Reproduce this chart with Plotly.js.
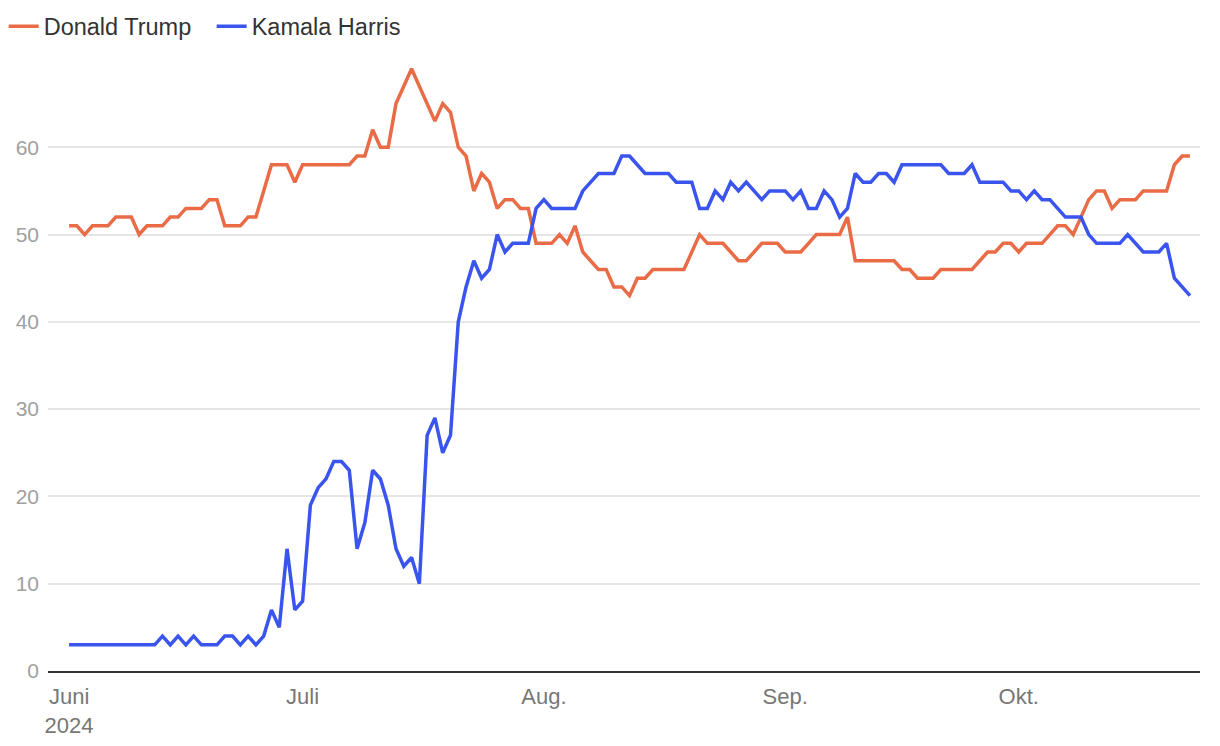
<!DOCTYPE html>
<html>
<head>
<meta charset="utf-8">
<script src="https://cdn.plot.ly/plotly-3.0.1.min.js"></script>
<style>
html,body{margin:0;padding:0;background:#fff;}
#chart{width:1220px;height:746px;}
</style>
</head>
<body>
<div id="chart"></div>
<script>
// Daily series starting 2024-06-01 (one value per day)
const seriesStart = '2024-06-01';

const trump = [
  51,51,50,51,51,51,52,52,52,50,
  51,51,51,52,52,53,53,53,54,54,
  51,51,51,52,52,55,58,58,58,56,
  58,58,58,58,58,58,58,59,59,62,
  60,60,65,67,69,67,65,63,65,64,
  60,59,55,57,56,53,54,54,53,53,
  49,49,49,50,49,51,48,47,46,46,
  44,44,43,45,45,46,46,46,46,46,
  48,50,49,49,49,48,47,47,48,49,
  49,49,48,48,48,49,50,50,50,50,
  52,47,47,47,47,47,47,46,46,45,
  45,45,46,46,46,46,46,47,48,48,
  49,49,48,49,49,49,50,51,51,50,
  52,54,55,55,53,54,54,54,55,55,
  55,55,58,59,59
];

const harris = [
  3,3,3,3,3,3,3,3,3,3,
  3,3,4,3,4,3,4,3,3,3,
  4,4,3,4,3,4,7,5,14,7,
  8,19,21,22,24,24,23,14,17,23,
  22,19,14,12,13,10,27,29,25,27,
  40,44,47,45,46,50,48,49,49,49,
  53,54,53,53,53,53,55,56,57,57,
  57,59,59,58,57,57,57,57,56,56,
  56,53,53,55,54,56,55,56,55,54,
  55,55,55,54,55,53,53,55,54,52,
  53,57,56,56,57,57,56,58,58,58,
  58,58,58,57,57,57,58,56,56,56,
  56,55,55,54,55,54,54,53,52,52,
  52,50,49,49,49,49,50,49,48,48,
  48,49,45,44,43
];

const seriesNames = ['Donald Trump', 'Kamala Harris'];
const seriesColors = ['#E96C47', '#3A54EE'];

const tickDates = ['2024-06-01','2024-07-01','2024-08-01','2024-09-01','2024-10-01'];
const tickLabels = ['Juni<br>2024','Juli','Aug.','Sep.','Okt.'];
const yTicks = [0,10,20,30,40,50,60];

function dailyDates(start, n) {
  const parts = start.split('-').map(Number);
  const base = Date.UTC(parts[0], parts[1]-1, parts[2]);
  const out = [];
  for (let i = 0; i < n; i++) {
    out.push(new Date(base + i*86400000).toISOString().slice(0,10));
  }
  return out;
}

const dates = dailyDates(seriesStart, trump.length);

const traces = [trump, harris].map((vals, i) => ({
  type: 'scatter',
  mode: 'lines',
  x: dates,
  y: vals,
  name: seriesNames[i],
  line: {color: seriesColors[i], width: 3.5, shape: 'linear'},
  hoverinfo: 'skip'
}));

const layout = {
  width: 1220,
  height: 746,
  margin: {l: 48, r: 20, t: 60, b: 75, pad: 0},
  paper_bgcolor: '#ffffff',
  plot_bgcolor: '#ffffff',
  font: {family: 'Liberation Sans, Arial, Helvetica, sans-serif', color: '#333'},
  showlegend: true,
  legend: {
    orientation: 'h',
    x: 0.003, y: 0.994,
    xref: 'container', yref: 'container',
    xanchor: 'left', yanchor: 'top',
    font: {size: 23.5, color: '#333'},
    itemwidth: 30,
    entrywidth: 163,
    entrywidthmode: 'pixels',
    bgcolor: 'rgba(0,0,0,0)'
  },
  xaxis: {
    type: 'date',
    range: ['2024-05-29 07:00', '2024-10-24 07:00'],
    tickvals: tickDates,
    ticktext: tickLabels,
    ticks: '',
    showgrid: false,
    zeroline: false,
    showline: true,
    linecolor: '#333',
    linewidth: 2,
    tickfont: {size: 22, color: '#777'},
    ticklabelstandoff: 5,
    fixedrange: true
  },
  yaxis: {
    range: [0, 70],
    tickvals: yTicks,
    ticktext: yTicks.map(String),
    ticks: '',
    showgrid: true,
    gridcolor: '#e6e6e6',
    gridwidth: 2,
    zeroline: false,
    showline: false,
    tickfont: {size: 21, color: '#a0a0a0'},
    ticklabelstandoff: 8,
    fixedrange: true
  }
};

Plotly.newPlot('chart', traces, layout, {displayModeBar: false, staticPlot: true});
</script>
</body>
</html>
